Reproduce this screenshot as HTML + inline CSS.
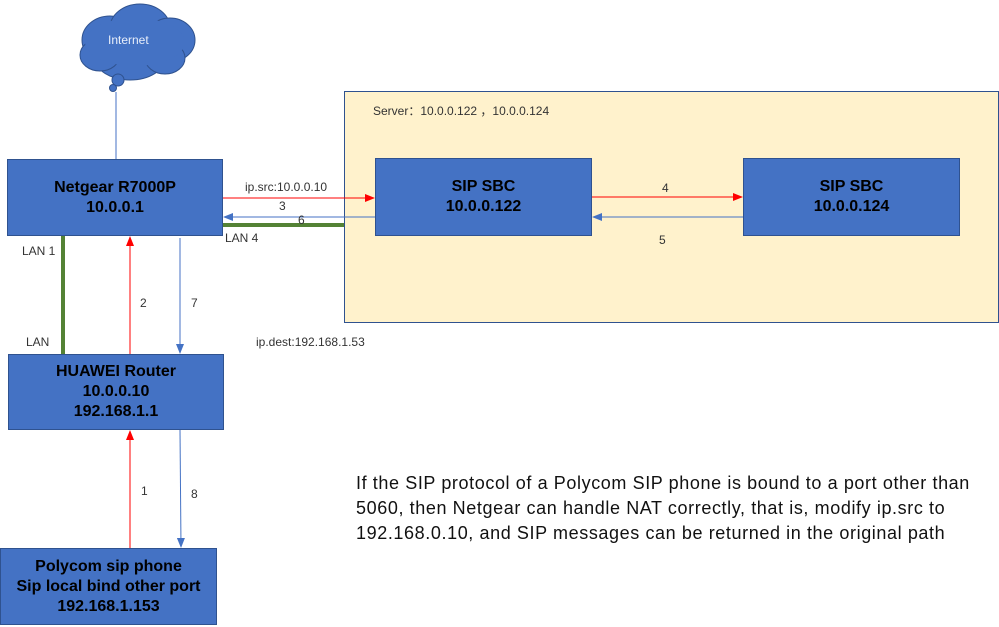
<!DOCTYPE html>
<html><head><style>
body{margin:0;width:999px;height:627px;background:#fff;position:relative;overflow:hidden;font-family:"Liberation Sans",sans-serif}
.b{position:absolute;background:#4472c4;border:1.5px solid #2f528f;box-sizing:border-box;color:#000;font-weight:bold;font-size:16px;text-align:center;display:flex;flex-direction:column;justify-content:center;line-height:20px}
.t{position:absolute;font-size:12px;color:#333}
</style></head><body>
<div style="position:absolute;left:344px;top:91px;width:655px;height:232px;background:#fff2cc;border:1.5px solid #2f528f;box-sizing:border-box"></div>
<svg width="999" height="627" style="position:absolute;left:0;top:0">
<defs>
<marker id="r" markerWidth="10" markerHeight="8" refX="9" refY="4" orient="auto" markerUnits="userSpaceOnUse"><path d="M0,0L10,4L0,8z" fill="#f00"/></marker>
<marker id="bl" markerWidth="10" markerHeight="8" refX="9" refY="4" orient="auto" markerUnits="userSpaceOnUse"><path d="M0,0L10,4L0,8z" fill="#4472c4"/></marker>
</defs>
<g fill="#4472c4" stroke="#2f528f" stroke-width="1">
<ellipse cx="110" cy="40" rx="28" ry="24"/><ellipse cx="140" cy="28" rx="30" ry="24"/><ellipse cx="170" cy="40" rx="25" ry="22"/><ellipse cx="130" cy="58" rx="35" ry="22"/><ellipse cx="100" cy="55" rx="20" ry="16"/><ellipse cx="165" cy="58" rx="20" ry="16"/>
<circle cx="118" cy="80" r="6"/><circle cx="113" cy="88" r="3.5"/>
</g>
<g fill="#4472c4"><ellipse cx="135" cy="42" rx="50" ry="24"/></g>
<line x1="116" y1="92" x2="116" y2="159" stroke="#4472c4" stroke-width="1"/>
<line x1="223" y1="198" x2="374" y2="198" stroke="#f00" stroke-width="1" marker-end="url(#r)"/>
<line x1="375" y1="217" x2="224" y2="217" stroke="#4472c4" stroke-width="1" marker-end="url(#bl)"/>
<line x1="223" y1="225" x2="344" y2="225" stroke="#548235" stroke-width="4"/>
<line x1="592" y1="197" x2="742" y2="197" stroke="#f00" stroke-width="1" marker-end="url(#r)"/>
<line x1="743" y1="217" x2="593" y2="217" stroke="#4472c4" stroke-width="1" marker-end="url(#bl)"/>
<line x1="63" y1="236" x2="63" y2="354" stroke="#548235" stroke-width="4"/>
<line x1="130" y1="354" x2="130" y2="237" stroke="#f00" stroke-width="1" marker-end="url(#r)"/>
<line x1="180" y1="238" x2="180" y2="353" stroke="#4472c4" stroke-width="1" marker-end="url(#bl)"/>
<line x1="130" y1="548" x2="130" y2="431" stroke="#f00" stroke-width="1" marker-end="url(#r)"/>
<line x1="180" y1="430" x2="181" y2="547" stroke="#4472c4" stroke-width="1" marker-end="url(#bl)"/>
</svg>
<div class="t" style="left:108px;top:33px;color:#e8eefa">Internet</div>
<div class="b" style="left:7px;top:159px;width:216px;height:77px">Netgear R7000P<br>10.0.0.1</div>
<div class="b" style="left:375px;top:158px;width:217px;height:78px">SIP SBC<br>10.0.0.122</div>
<div class="b" style="left:743px;top:158px;width:217px;height:78px">SIP SBC<br>10.0.0.124</div>
<div class="b" style="left:8px;top:354px;width:216px;height:76px">HUAWEI Router<br>10.0.0.10<br>192.168.1.1</div>
<div class="b" style="left:0px;top:548px;width:217px;height:77px">Polycom sip phone<br>Sip local bind other port<br>192.168.1.153</div>
<div class="t" style="left:373px;top:102px">Server：10.0.0.122 ，10.0.0.124</div>
<div class="t" style="left:245px;top:180px">ip.src:10.0.0.10</div>
<div class="t" style="left:279px;top:199px">3</div>
<div class="t" style="left:298px;top:213px">6</div>
<div class="t" style="left:225px;top:231px">LAN 4</div>
<div class="t" style="left:662px;top:181px">4</div>
<div class="t" style="left:659px;top:233px">5</div>
<div class="t" style="left:22px;top:244px">LAN 1</div>
<div class="t" style="left:26px;top:335px">LAN</div>
<div class="t" style="left:140px;top:296px">2</div>
<div class="t" style="left:191px;top:296px">7</div>
<div class="t" style="left:256px;top:335px">ip.dest:192.168.1.53</div>
<div class="t" style="left:141px;top:484px">1</div>
<div class="t" style="left:191px;top:487px">8</div>
<div style="position:absolute;left:356px;top:471px;font-size:18px;line-height:25px;color:#111;white-space:nowrap;letter-spacing:0.6px">If the SIP protocol of a Polycom SIP phone is bound to a port other than<br>5060, then Netgear can handle NAT correctly, that is, modify ip.src to<br>192.168.0.10, and SIP messages can be returned in the original path</div>
</body></html>
